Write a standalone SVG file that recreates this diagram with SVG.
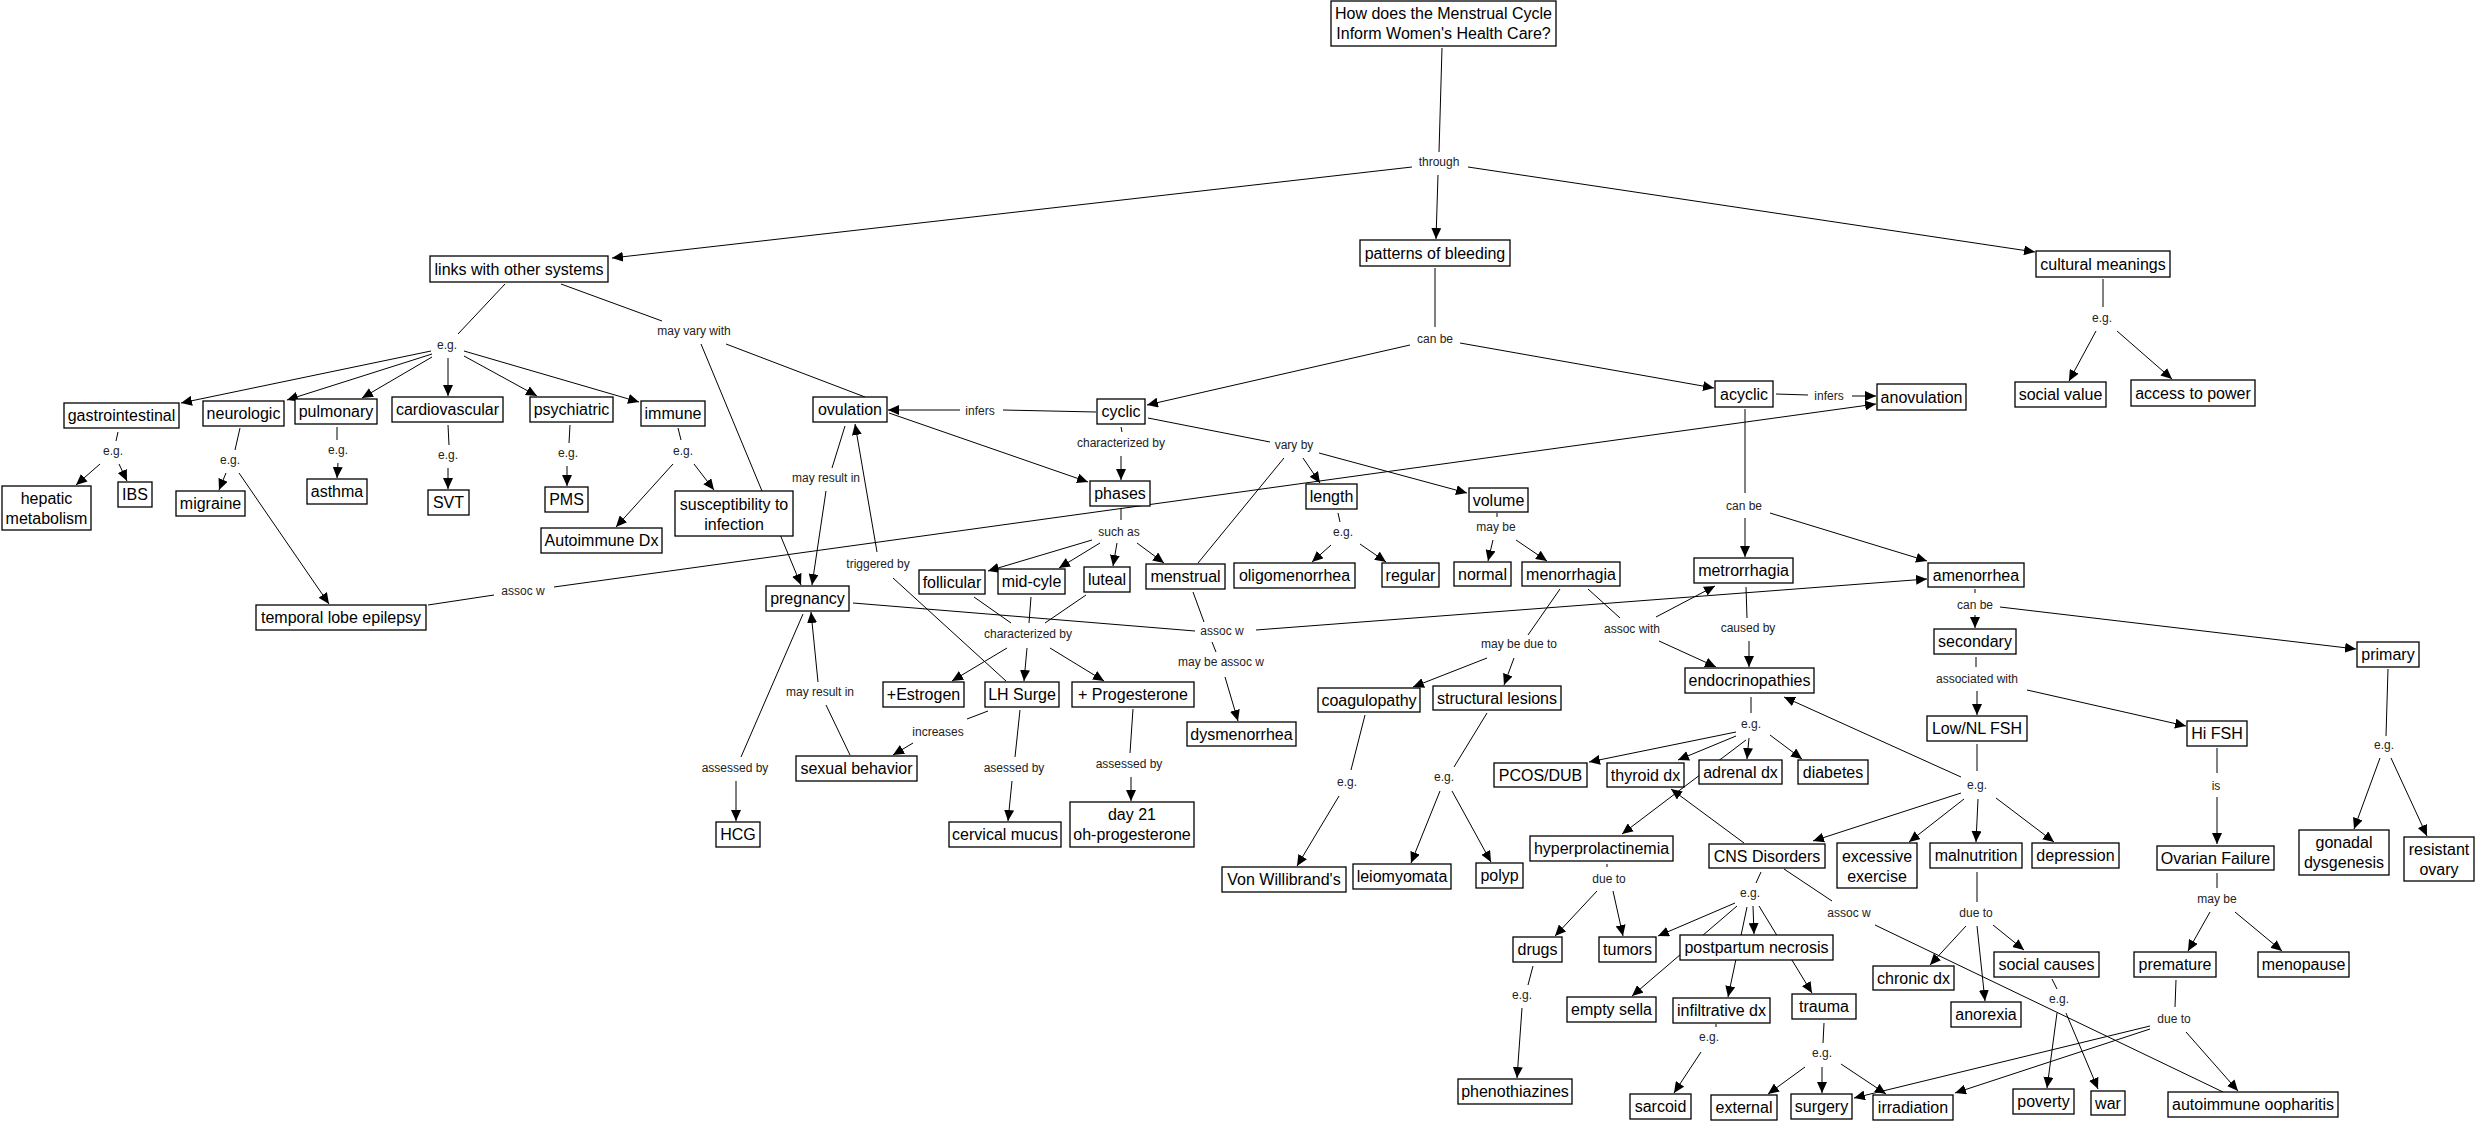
<svg xmlns="http://www.w3.org/2000/svg" width="2475" height="1123" viewBox="0 0 2475 1123">
<style>
.n rect{fill:#fff;stroke:#000;stroke-width:1.3}
.n text{font-family:"Liberation Sans",Arial,sans-serif;font-size:16px;fill:#000;text-anchor:middle;dominant-baseline:central}
.lb text{font-family:"Liberation Sans",Arial,sans-serif;font-size:12px;fill:#222;text-anchor:middle;dominant-baseline:central}
.c line{stroke:#000;stroke-width:1;fill:none}
.c line.a{marker-end:url(#ah)}
</style>
<defs>
<marker id="ah" markerWidth="11" markerHeight="10" refX="11" refY="5" orient="auto" markerUnits="userSpaceOnUse"><path d="M0,0 L11,5 L0,10 z" fill="#000"/></marker>
</defs>
<rect x="0" y="0" width="2475" height="1123" fill="#fff"/>
<g id="connectors" class="c">
<line x1="1442" y1="48" x2="1439" y2="152"/>
<line class="a" x1="1412" y1="167" x2="612" y2="258"/>
<line class="a" x1="1438" y1="175" x2="1436" y2="239"/>
<line class="a" x1="1468" y1="167" x2="2035" y2="252"/>
<line x1="1435" y1="268" x2="1435" y2="327"/>
<line class="a" x1="1410" y1="345" x2="1147" y2="405"/>
<line class="a" x1="1460" y1="343" x2="1714" y2="388"/>
<line x1="2103" y1="279" x2="2103" y2="307"/>
<line class="a" x1="2096" y1="331" x2="2069" y2="381"/>
<line class="a" x1="2117" y1="331" x2="2172" y2="379"/>
<line x1="505" y1="284" x2="458" y2="334"/>
<line class="a" x1="431" y1="351" x2="181" y2="403"/>
<line class="a" x1="432" y1="354" x2="287" y2="400"/>
<line class="a" x1="432" y1="357" x2="362" y2="398"/>
<line class="a" x1="448" y1="358" x2="448" y2="396"/>
<line class="a" x1="464" y1="356" x2="537" y2="396"/>
<line class="a" x1="464" y1="351" x2="639" y2="402"/>
<line x1="561" y1="284" x2="662" y2="321"/>
<line x1="726" y1="344" x2="865" y2="397"/>
<line class="a" x1="701" y1="344" x2="801" y2="585"/>
<line x1="118" y1="432" x2="116" y2="441"/>
<line class="a" x1="100" y1="464" x2="76" y2="485"/>
<line class="a" x1="119" y1="464" x2="127" y2="481"/>
<line x1="240" y1="428" x2="235" y2="450"/>
<line class="a" x1="226" y1="473" x2="219" y2="490"/>
<line class="a" x1="239" y1="473" x2="329" y2="604"/>
<line x1="337" y1="427" x2="337" y2="440"/>
<line class="a" x1="338" y1="463" x2="337" y2="478"/>
<line x1="448" y1="425" x2="449" y2="445"/>
<line class="a" x1="448" y1="468" x2="448" y2="489"/>
<line x1="570" y1="425" x2="569" y2="443"/>
<line class="a" x1="567" y1="466" x2="567" y2="486"/>
<line x1="678" y1="428" x2="681" y2="440"/>
<line class="a" x1="673" y1="464" x2="616" y2="527"/>
<line class="a" x1="694" y1="464" x2="714" y2="490"/>
<line x1="428" y1="605" x2="494" y2="595"/>
<line class="a" x1="554" y1="587" x2="1876" y2="404"/>
<line x1="1096" y1="412" x2="1003" y2="410"/>
<line class="a" x1="960" y1="410" x2="888" y2="410"/>
<line class="a" x1="889" y1="413" x2="1088" y2="482"/>
<line x1="1121" y1="427" x2="1122" y2="432"/>
<line class="a" x1="1121" y1="456" x2="1121" y2="480"/>
<line x1="1148" y1="418" x2="1270" y2="442"/>
<line x1="1198" y1="563" x2="1284" y2="458"/>
<line class="a" x1="1303" y1="458" x2="1320" y2="483"/>
<line class="a" x1="1319" y1="453" x2="1467" y2="493"/>
<line x1="1776" y1="394" x2="1808" y2="395"/>
<line class="a" x1="1852" y1="396" x2="1876" y2="396"/>
<line x1="1745" y1="409" x2="1745" y2="493"/>
<line class="a" x1="1745" y1="518" x2="1745" y2="557"/>
<line class="a" x1="1770" y1="513" x2="1927" y2="561"/>
<line x1="845" y1="426" x2="832" y2="468"/>
<line class="a" x1="826" y1="491" x2="812" y2="585"/>
<line x1="1121" y1="508" x2="1121" y2="520"/>
<line class="a" x1="1092" y1="540" x2="988" y2="571"/>
<line class="a" x1="1100" y1="543" x2="1059" y2="568"/>
<line class="a" x1="1117" y1="543" x2="1113" y2="566"/>
<line class="a" x1="1137" y1="543" x2="1164" y2="563"/>
<line x1="1338" y1="513" x2="1340" y2="522"/>
<line class="a" x1="1331" y1="545" x2="1312" y2="562"/>
<line class="a" x1="1360" y1="544" x2="1386" y2="562"/>
<line x1="1497" y1="513" x2="1497" y2="517"/>
<line class="a" x1="1493" y1="540" x2="1488" y2="561"/>
<line class="a" x1="1516" y1="540" x2="1547" y2="561"/>
<line x1="1975" y1="589" x2="1975" y2="593"/>
<line class="a" x1="1975" y1="615" x2="1975" y2="628"/>
<line class="a" x1="2000" y1="607" x2="2356" y2="649"/>
<line x1="1006" y1="681" x2="893" y2="578"/>
<line class="a" x1="877" y1="552" x2="855" y2="424"/>
<line x1="974" y1="597" x2="1011" y2="623"/>
<line x1="1031" y1="597" x2="1029" y2="623"/>
<line x1="1086" y1="595" x2="1045" y2="623"/>
<line class="a" x1="1007" y1="648" x2="952" y2="681"/>
<line class="a" x1="1027" y1="648" x2="1024" y2="681"/>
<line class="a" x1="1050" y1="648" x2="1104" y2="681"/>
<line x1="1193" y1="592" x2="1204" y2="622"/>
<line x1="853" y1="603" x2="1195" y2="631"/>
<line class="a" x1="1256" y1="630" x2="1927" y2="579"/>
<line x1="1212" y1="642" x2="1216" y2="652"/>
<line class="a" x1="1225" y1="677" x2="1238" y2="721"/>
<line x1="1746" y1="587" x2="1747" y2="618"/>
<line class="a" x1="1749" y1="641" x2="1749" y2="667"/>
<line x1="1588" y1="589" x2="1620" y2="618"/>
<line class="a" x1="1656" y1="617" x2="1715" y2="586"/>
<line class="a" x1="1659" y1="641" x2="1716" y2="667"/>
<line x1="1560" y1="589" x2="1528" y2="635"/>
<line class="a" x1="1487" y1="658" x2="1413" y2="687"/>
<line class="a" x1="1514" y1="658" x2="1504" y2="685"/>
<line x1="1976" y1="657" x2="1976" y2="667"/>
<line class="a" x1="1977" y1="691" x2="1977" y2="715"/>
<line class="a" x1="2027" y1="690" x2="2186" y2="726"/>
<line x1="850" y1="755" x2="826" y2="705"/>
<line class="a" x1="818" y1="682" x2="811" y2="612"/>
<line x1="1751" y1="697" x2="1751" y2="713"/>
<line class="a" x1="1736" y1="732" x2="1589" y2="762"/>
<line class="a" x1="1736" y1="736" x2="1678" y2="760"/>
<line class="a" x1="1749" y1="738" x2="1747" y2="759"/>
<line class="a" x1="1770" y1="735" x2="1802" y2="759"/>
<line class="a" x1="1746" y1="740" x2="1622" y2="834"/>
<line x1="1977" y1="744" x2="1977" y2="771"/>
<line class="a" x1="1961" y1="777" x2="1784" y2="697"/>
<line class="a" x1="1961" y1="793" x2="1813" y2="841"/>
<line class="a" x1="1964" y1="799" x2="1909" y2="842"/>
<line class="a" x1="1978" y1="799" x2="1976" y2="842"/>
<line class="a" x1="1996" y1="798" x2="2054" y2="842"/>
<line class="a" x1="1744" y1="843" x2="1671" y2="789"/>
<line x1="1607" y1="864" x2="1607" y2="867"/>
<line class="a" x1="1597" y1="891" x2="1555" y2="936"/>
<line class="a" x1="1613" y1="891" x2="1623" y2="936"/>
<line x1="1761" y1="872" x2="1756" y2="883"/>
<line class="a" x1="1735" y1="903" x2="1658" y2="936"/>
<line class="a" x1="1737" y1="906" x2="1632" y2="996"/>
<line class="a" x1="1753" y1="906" x2="1754" y2="934"/>
<line class="a" x1="1747" y1="907" x2="1728" y2="997"/>
<line class="a" x1="1759" y1="906" x2="1812" y2="993"/>
<line x1="1784" y1="869" x2="1832" y2="901"/>
<line x1="1875" y1="925" x2="2223" y2="1092"/>
<line x1="1533" y1="966" x2="1528" y2="985"/>
<line class="a" x1="1522" y1="1008" x2="1517" y2="1078"/>
<line x1="1716" y1="1024" x2="1716" y2="1027"/>
<line class="a" x1="1701" y1="1052" x2="1674" y2="1093"/>
<line x1="1824" y1="1023" x2="1823" y2="1043"/>
<line class="a" x1="1805" y1="1067" x2="1768" y2="1094"/>
<line class="a" x1="1822" y1="1067" x2="1822" y2="1093"/>
<line class="a" x1="1841" y1="1064" x2="1886" y2="1094"/>
<line x1="1977" y1="872" x2="1977" y2="902"/>
<line class="a" x1="1966" y1="926" x2="1930" y2="965"/>
<line class="a" x1="1977" y1="926" x2="1985" y2="1001"/>
<line class="a" x1="1993" y1="925" x2="2024" y2="950"/>
<line x1="2052" y1="979" x2="2057" y2="989"/>
<line class="a" x1="2057" y1="1013" x2="2047" y2="1088"/>
<line class="a" x1="2066" y1="1013" x2="2098" y2="1089"/>
<line x1="2217" y1="748" x2="2217" y2="773"/>
<line class="a" x1="2217" y1="797" x2="2217" y2="844"/>
<line x1="2217" y1="873" x2="2217" y2="888"/>
<line class="a" x1="2210" y1="912" x2="2188" y2="951"/>
<line class="a" x1="2235" y1="912" x2="2282" y2="951"/>
<line x1="2176" y1="980" x2="2175" y2="1007"/>
<line class="a" x1="2150" y1="1026" x2="1854" y2="1098"/>
<line class="a" x1="2150" y1="1029" x2="1955" y2="1093"/>
<line class="a" x1="2186" y1="1032" x2="2238" y2="1091"/>
<line x1="2388" y1="669" x2="2386" y2="736"/>
<line class="a" x1="2380" y1="758" x2="2354" y2="829"/>
<line class="a" x1="2391" y1="758" x2="2427" y2="836"/>
<line x1="803" y1="614" x2="741" y2="757"/>
<line class="a" x1="736" y1="781" x2="736" y2="821"/>
<line x1="988" y1="711" x2="967" y2="719"/>
<line class="a" x1="913" y1="743" x2="893" y2="755"/>
<line x1="1020" y1="710" x2="1015" y2="757"/>
<line class="a" x1="1012" y1="781" x2="1008" y2="821"/>
<line x1="1133" y1="709" x2="1130" y2="753"/>
<line class="a" x1="1131" y1="777" x2="1131" y2="801"/>
<line x1="1365" y1="715" x2="1351" y2="770"/>
<line class="a" x1="1339" y1="796" x2="1297" y2="866"/>
<line x1="1487" y1="713" x2="1454" y2="767"/>
<line class="a" x1="1440" y1="791" x2="1411" y2="863"/>
<line class="a" x1="1452" y1="791" x2="1491" y2="862"/>
</g>
<g id="link-labels" class="lb">
<text x="1439" y="162">through</text>
<text x="1435" y="339">can be</text>
<text x="2102" y="318">e.g.</text>
<text x="447" y="345">e.g.</text>
<text x="694" y="331">may vary with</text>
<text x="113" y="451">e.g.</text>
<text x="230" y="460">e.g.</text>
<text x="338" y="450">e.g.</text>
<text x="448" y="455">e.g.</text>
<text x="568" y="453">e.g.</text>
<text x="683" y="451">e.g.</text>
<text x="523" y="591">assoc w</text>
<text x="980" y="411">infers</text>
<text x="1829" y="396">infers</text>
<text x="1121" y="443">characterized by</text>
<text x="1294" y="445">vary by</text>
<text x="1744" y="506">can be</text>
<text x="826" y="478">may result in</text>
<text x="1119" y="532">such as</text>
<text x="1343" y="532">e.g.</text>
<text x="1496" y="527">may be</text>
<text x="1975" y="605">can be</text>
<text x="878" y="564">triggered by</text>
<text x="1028" y="634">characterized by</text>
<text x="1222" y="631">assoc w</text>
<text x="1748" y="628">caused by</text>
<text x="1632" y="629">assoc with</text>
<text x="1519" y="644">may be due to</text>
<text x="1221" y="662">may be assoc w</text>
<text x="1977" y="679">associated with</text>
<text x="820" y="692">may result in</text>
<text x="1751" y="724">e.g.</text>
<text x="938" y="732">increases</text>
<text x="735" y="768">assessed by</text>
<text x="1014" y="768">asessed by</text>
<text x="1129" y="764">assessed by</text>
<text x="2384" y="745">e.g.</text>
<text x="1347" y="782">e.g.</text>
<text x="1444" y="777">e.g.</text>
<text x="1977" y="785">e.g.</text>
<text x="2216" y="786">is</text>
<text x="1609" y="879">due to</text>
<text x="1750" y="893">e.g.</text>
<text x="2217" y="899">may be</text>
<text x="1849" y="913">assoc w</text>
<text x="1976" y="913">due to</text>
<text x="1522" y="995">e.g.</text>
<text x="2059" y="999">e.g.</text>
<text x="2174" y="1019">due to</text>
<text x="1709" y="1037">e.g.</text>
<text x="1822" y="1053">e.g.</text>
</g>
<g id="n-root" class="n"><rect x="1331" y="1" width="225" height="45"/><text x="1443.5" y="13.5">How does the Menstrual Cycle</text><text x="1443.5" y="33.5">Inform Women's Health Care?</text></g>
<g id="n-links" class="n"><rect x="430" y="256" width="178" height="26"/><text x="519" y="269">links with other systems</text></g>
<g id="n-patterns" class="n"><rect x="1360" y="240" width="150" height="26"/><text x="1435" y="253">patterns of bleeding</text></g>
<g id="n-cultural" class="n"><rect x="2036" y="251" width="134" height="26"/><text x="2103" y="264">cultural meanings</text></g>
<g id="n-social-value" class="n"><rect x="2015" y="382" width="91" height="25"/><text x="2060.5" y="394.5">social value</text></g>
<g id="n-access" class="n"><rect x="2131" y="380" width="124" height="26"/><text x="2193" y="393">access to power</text></g>
<g id="n-gastro" class="n"><rect x="64" y="403" width="115" height="25"/><text x="121.5" y="415.5">gastrointestinal</text></g>
<g id="n-neuro" class="n"><rect x="203" y="401" width="81" height="25"/><text x="243.5" y="413.5">neurologic</text></g>
<g id="n-pulm" class="n"><rect x="295" y="399" width="82" height="25"/><text x="336" y="411.5">pulmonary</text></g>
<g id="n-cardio" class="n"><rect x="392" y="397" width="111" height="25"/><text x="447.5" y="409.5">cardiovascular</text></g>
<g id="n-psych" class="n"><rect x="530" y="397" width="83" height="25"/><text x="571.5" y="409.5">psychiatric</text></g>
<g id="n-immune" class="n"><rect x="641" y="401" width="64" height="25"/><text x="673" y="413.5">immune</text></g>
<g id="n-hepatic" class="n"><rect x="2" y="486" width="89" height="44"/><text x="46.5" y="498">hepatic</text><text x="46.5" y="518">metabolism</text></g>
<g id="n-ibs" class="n"><rect x="118" y="482" width="34" height="25"/><text x="135" y="494.5">IBS</text></g>
<g id="n-migraine" class="n"><rect x="176" y="491" width="69" height="25"/><text x="210.5" y="503.5">migraine</text></g>
<g id="n-asthma" class="n"><rect x="307" y="479" width="60" height="25"/><text x="337" y="491.5">asthma</text></g>
<g id="n-svt" class="n"><rect x="428" y="490" width="41" height="25"/><text x="448.5" y="502.5">SVT</text></g>
<g id="n-pms" class="n"><rect x="545" y="487" width="43" height="25"/><text x="566.5" y="499.5">PMS</text></g>
<g id="n-autoimmune-dx" class="n"><rect x="541" y="528" width="121" height="25"/><text x="601.5" y="540.5">Autoimmune Dx</text></g>
<g id="n-suscept" class="n"><rect x="675" y="491" width="118" height="45"/><text x="734" y="504">susceptibility to</text><text x="734" y="524">infection</text></g>
<g id="n-temporal" class="n"><rect x="256" y="605" width="170" height="25"/><text x="341" y="617.5">temporal lobe epilepsy</text></g>
<g id="n-ovulation" class="n"><rect x="813" y="397" width="74" height="25"/><text x="850" y="409.5">ovulation</text></g>
<g id="n-cyclic" class="n"><rect x="1097" y="399" width="48" height="25"/><text x="1121" y="411.5">cyclic</text></g>
<g id="n-acyclic" class="n"><rect x="1715" y="381" width="58" height="26"/><text x="1744" y="394">acyclic</text></g>
<g id="n-anovulation" class="n"><rect x="1877" y="384" width="89" height="26"/><text x="1921.5" y="397">anovulation</text></g>
<g id="n-phases" class="n"><rect x="1090" y="481" width="60" height="25"/><text x="1120" y="493.5">phases</text></g>
<g id="n-length" class="n"><rect x="1306" y="484" width="51" height="25"/><text x="1331.5" y="496.5">length</text></g>
<g id="n-volume" class="n"><rect x="1469" y="488" width="59" height="24"/><text x="1498.5" y="500">volume</text></g>
<g id="n-follicular" class="n"><rect x="919" y="570" width="66" height="24"/><text x="952" y="582">follicular</text></g>
<g id="n-midcyle" class="n"><rect x="998" y="569" width="67" height="25"/><text x="1031.5" y="581.5">mid-cyle</text></g>
<g id="n-luteal" class="n"><rect x="1084" y="567" width="46" height="25"/><text x="1107" y="579.5">luteal</text></g>
<g id="n-menstrual" class="n"><rect x="1146" y="564" width="79" height="25"/><text x="1185.5" y="576.5">menstrual</text></g>
<g id="n-pregnancy" class="n"><rect x="766" y="586" width="83" height="25"/><text x="807.5" y="598.5">pregnancy</text></g>
<g id="n-oligo" class="n"><rect x="1234" y="563" width="121" height="25"/><text x="1294.5" y="575.5">oligomenorrhea</text></g>
<g id="n-regular" class="n"><rect x="1382" y="563" width="57" height="24"/><text x="1410.5" y="575">regular</text></g>
<g id="n-normal" class="n"><rect x="1454" y="562" width="57" height="24"/><text x="1482.5" y="574">normal</text></g>
<g id="n-menorrhagia" class="n"><rect x="1522" y="562" width="98" height="24"/><text x="1571" y="574">menorrhagia</text></g>
<g id="n-metrorrhagia" class="n"><rect x="1694" y="558" width="99" height="25"/><text x="1743.5" y="570.5">metrorrhagia</text></g>
<g id="n-amenorrhea" class="n"><rect x="1928" y="563" width="96" height="24"/><text x="1976" y="575">amenorrhea</text></g>
<g id="n-estrogen" class="n"><rect x="883" y="682" width="81" height="25"/><text x="923.5" y="694.5">+Estrogen</text></g>
<g id="n-lhsurge" class="n"><rect x="985" y="682" width="74" height="25"/><text x="1022" y="694.5">LH Surge</text></g>
<g id="n-progesterone" class="n"><rect x="1072" y="682" width="122" height="25"/><text x="1133" y="694.5">+ Progesterone</text></g>
<g id="n-dysmenorrhea" class="n"><rect x="1187" y="722" width="109" height="24"/><text x="1241.5" y="734">dysmenorrhea</text></g>
<g id="n-coag" class="n"><rect x="1318" y="688" width="102" height="24"/><text x="1369" y="700">coagulopathy</text></g>
<g id="n-structural" class="n"><rect x="1433" y="686" width="128" height="24"/><text x="1497" y="698">structural lesions</text></g>
<g id="n-endocrino" class="n"><rect x="1685" y="668" width="129" height="25"/><text x="1749.5" y="680.5">endocrinopathies</text></g>
<g id="n-secondary" class="n"><rect x="1934" y="629" width="82" height="25"/><text x="1975" y="641.5">secondary</text></g>
<g id="n-primary" class="n"><rect x="2357" y="642" width="62" height="25"/><text x="2388" y="654.5">primary</text></g>
<g id="n-lownl" class="n"><rect x="1927" y="716" width="100" height="25"/><text x="1977" y="728.5">Low/NL FSH</text></g>
<g id="n-hifsh" class="n"><rect x="2187" y="721" width="60" height="25"/><text x="2217" y="733.5">Hi FSH</text></g>
<g id="n-sexual" class="n"><rect x="796" y="756" width="121" height="25"/><text x="856.5" y="768.5">sexual behavior</text></g>
<g id="n-hcg" class="n"><rect x="716" y="822" width="44" height="25"/><text x="738" y="834.5">HCG</text></g>
<g id="n-cervical" class="n"><rect x="949" y="822" width="112" height="25"/><text x="1005" y="834.5">cervical mucus</text></g>
<g id="n-day21" class="n"><rect x="1070" y="802" width="124" height="45"/><text x="1132" y="814">day 21</text><text x="1132" y="834">oh-progesterone</text></g>
<g id="n-vonw" class="n"><rect x="1222" y="867" width="124" height="25"/><text x="1284" y="879.5">Von Willibrand's</text></g>
<g id="n-leio" class="n"><rect x="1353" y="864" width="98" height="25"/><text x="1402" y="876.5">leiomyomata</text></g>
<g id="n-polyp" class="n"><rect x="1476" y="863" width="47" height="25"/><text x="1499.5" y="875.5">polyp</text></g>
<g id="n-pcos" class="n"><rect x="1494" y="763" width="93" height="24"/><text x="1540.5" y="775">PCOS/DUB</text></g>
<g id="n-thyroid" class="n"><rect x="1607" y="763" width="77" height="24"/><text x="1645.5" y="775">thyroid dx</text></g>
<g id="n-adrenal" class="n"><rect x="1699" y="760" width="83" height="24"/><text x="1740.5" y="772">adrenal dx</text></g>
<g id="n-diabetes" class="n"><rect x="1798" y="760" width="70" height="24"/><text x="1833" y="772">diabetes</text></g>
<g id="n-hyperprolactinemia" class="n"><rect x="1530" y="836" width="143" height="25"/><text x="1601.5" y="848.5">hyperprolactinemia</text></g>
<g id="n-cns" class="n"><rect x="1709" y="844" width="116" height="24"/><text x="1767" y="856">CNS Disorders</text></g>
<g id="n-excessive" class="n"><rect x="1837" y="843" width="80" height="45"/><text x="1877" y="856">excessive</text><text x="1877" y="876">exercise</text></g>
<g id="n-malnutrition" class="n"><rect x="1930" y="843" width="92" height="25"/><text x="1976" y="855.5">malnutrition</text></g>
<g id="n-depression" class="n"><rect x="2032" y="843" width="87" height="25"/><text x="2075.5" y="855.5">depression</text></g>
<g id="n-ovarian" class="n"><rect x="2157" y="846" width="117" height="24"/><text x="2215.5" y="858">Ovarian Failure</text></g>
<g id="n-gonadal" class="n"><rect x="2299" y="830" width="90" height="45"/><text x="2344" y="842">gonadal</text><text x="2344" y="862">dysgenesis</text></g>
<g id="n-resistant" class="n"><rect x="2404" y="837" width="70" height="44"/><text x="2439" y="849">resistant</text><text x="2439" y="869">ovary</text></g>
<g id="n-drugs" class="n"><rect x="1513" y="937" width="49" height="25"/><text x="1537.5" y="949.5">drugs</text></g>
<g id="n-tumors" class="n"><rect x="1599" y="937" width="57" height="25"/><text x="1627.5" y="949.5">tumors</text></g>
<g id="n-postpartum" class="n"><rect x="1680" y="935" width="153" height="25"/><text x="1756.5" y="947.5">postpartum necrosis</text></g>
<g id="n-chronic" class="n"><rect x="1873" y="966" width="81" height="24"/><text x="1913.5" y="978">chronic dx</text></g>
<g id="n-socialcauses" class="n"><rect x="1994" y="952" width="105" height="25"/><text x="2046.5" y="964.5">social causes</text></g>
<g id="n-premature" class="n"><rect x="2134" y="952" width="82" height="25"/><text x="2175" y="964.5">premature</text></g>
<g id="n-menopause" class="n"><rect x="2258" y="952" width="91" height="25"/><text x="2303.5" y="964.5">menopause</text></g>
<g id="n-emptysella" class="n"><rect x="1567" y="997" width="89" height="25"/><text x="1611.5" y="1009.5">empty sella</text></g>
<g id="n-infiltrative" class="n"><rect x="1673" y="998" width="97" height="25"/><text x="1721.5" y="1010.5">infiltrative dx</text></g>
<g id="n-trauma" class="n"><rect x="1792" y="994" width="64" height="25"/><text x="1824" y="1006.5">trauma</text></g>
<g id="n-anorexia" class="n"><rect x="1951" y="1002" width="70" height="25"/><text x="1986" y="1014.5">anorexia</text></g>
<g id="n-phenothiazines" class="n"><rect x="1458" y="1079" width="114" height="25"/><text x="1515" y="1091.5">phenothiazines</text></g>
<g id="n-sarcoid" class="n"><rect x="1630" y="1094" width="61" height="25"/><text x="1660.5" y="1106.5">sarcoid</text></g>
<g id="n-external" class="n"><rect x="1711" y="1095" width="66" height="25"/><text x="1744" y="1107.5">external</text></g>
<g id="n-surgery" class="n"><rect x="1791" y="1094" width="61" height="25"/><text x="1821.5" y="1106.5">surgery</text></g>
<g id="n-irradiation" class="n"><rect x="1873" y="1095" width="80" height="25"/><text x="1913" y="1107.5">irradiation</text></g>
<g id="n-poverty" class="n"><rect x="2013" y="1089" width="61" height="25"/><text x="2043.5" y="1101.5">poverty</text></g>
<g id="n-war" class="n"><rect x="2091" y="1091" width="34" height="24"/><text x="2108" y="1103">war</text></g>
<g id="n-oopharitis" class="n"><rect x="2168" y="1092" width="170" height="25"/><text x="2253" y="1104.5">autoimmune oopharitis</text></g>
</svg>
